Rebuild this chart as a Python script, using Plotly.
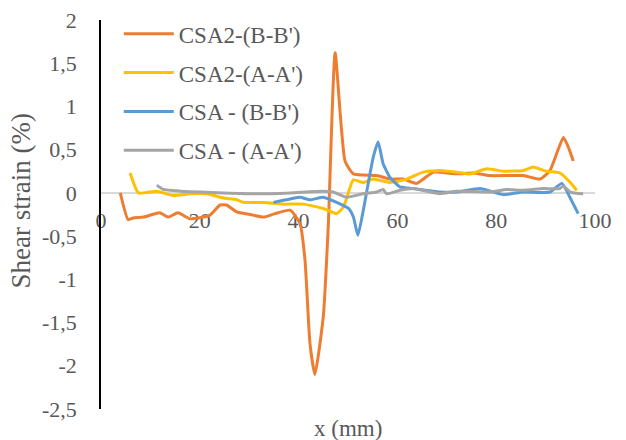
import plotly.graph_objects as go

# ---- data ----
x_csa2_bb = [3.9, 5.5, 6.5, 8.6, 11.9, 13.6, 15.6, 18.0, 22.0, 24.1, 25.4, 27.5, 30.2, 32.9, 35.2, 38.3,
             40.3, 41.3, 42.3, 43.3, 45.0, 46.0, 47.4, 49.4, 51.1, 55.8, 58.5, 61.2, 63.9, 67.3, 72.0,
             75.4, 78.7, 85.5, 88.9, 90.9, 93.6, 94.6, 95.6]
y_csa2_bb = [0.0, -0.31, -0.29, -0.28, -0.23, -0.28, -0.23, -0.30, -0.26, -0.14, -0.14, -0.22, -0.25, -0.28, -0.24, -0.20,
             -0.36, -0.78, -1.74, -2.10, -1.43, -0.39, 1.62, 0.37, 0.22, 0.20, 0.16, 0.16, 0.11, 0.24, 0.22,
             0.23, 0.20, 0.20, 0.16, 0.26, 0.64, 0.53, 0.37]

x_csa2_aa = [5.9, 7.6, 11.3, 14.6, 18.0, 21.4, 24.8, 27.5, 28.8, 32.9, 36.9, 41.0, 45.0, 47.7, 49.1, 51.1,
             53.1, 55.1, 58.5, 61.9, 65.2, 68.6, 72.0, 74.7, 78.1, 81.4, 85.5, 87.5, 90.2, 92.9, 95.0, 96.3]
y_csa2_aa = [0.23, 0.0, 0.02, -0.03, -0.01, -0.01, -0.06, -0.08, -0.11, -0.11, -0.13, -0.13, -0.18, -0.24, -0.16, 0.15,
             0.12, 0.16, 0.12, 0.16, 0.24, 0.26, 0.24, 0.22, 0.28, 0.25, 0.26, 0.30, 0.25, 0.23, 0.12, 0.03]

x_csa_bb = [34.9, 38.3, 40.3, 42.3, 45.0, 47.7, 50.1, 51.1, 52.0, 53.1, 55.1, 56.1, 57.1, 58.5, 60.5, 63.2,
            68.6, 72.0, 76.7, 81.4, 85.5, 90.9, 93.3, 94.9, 96.6]
y_csa_bb = [-0.11, -0.07, -0.05, -0.08, -0.05, -0.11, -0.18, -0.28, -0.49, -0.20, 0.41, 0.59, 0.34, 0.18, 0.07, 0.05,
            0.01, 0.01, 0.05, -0.02, 0.01, 0.01, 0.11, -0.05, -0.24]

x_csa_aa = [11.3, 12.6, 16.0, 20.0, 24.8, 31.5, 38.3, 45.0, 47.0, 49.7, 53.1, 55.8, 57.1, 57.8, 60.5, 63.2,
            68.6, 72.0, 78.7, 82.1, 85.5, 89.5, 92.9, 93.6, 95.0, 97.6]
y_csa_aa = [0.09, 0.04, 0.02, 0.01, 0.0, -0.01, 0.0, 0.02, 0.01, -0.05, -0.01, 0.01, 0.04, -0.01, 0.03, 0.05,
            -0.01, 0.02, 0.01, 0.04, 0.03, 0.05, 0.05, 0.08, 0.01, -0.01]

series_names = ["CSA2-(B-B')", "CSA2-(A-A')", "CSA - (B-B')", "CSA - (A-A')"]
series_colors = ["#ED7D31", "#FFC000", "#5B9BD5", "#A5A5A5"]

x_tickvals = [0, 20, 40, 60, 80, 100]
x_ticktext = ["0", "20", "40", "60", "80", "100"]
y_tickvals = [-2.5, -2, -1.5, -1, -0.5, 0, 0.5, 1, 1.5, 2]
y_ticktext = ["-2,5", "-2", "-1,5", "-1", "-0,5", "0", "0,5", "1", "1,5", "2"]

x_range = [0, 100]
y_range = [-2.5, 2]

FONT = "Liberation Serif"
GREY = "#595959"

fig = go.Figure()
all_x = [x_csa2_bb, x_csa2_aa, x_csa_bb, x_csa_aa]
all_y = [y_csa2_bb, y_csa2_aa, y_csa_bb, y_csa_aa]
for name, xs, ys, col in zip(series_names, all_x, all_y, series_colors):
    fig.add_trace(go.Scatter(x=xs, y=ys, mode="lines", name=name, legendgroup=name,
                             line=dict(color=col, width=3, shape="spline", smoothing=0.5)))

zero_pos = (0 - y_range[0]) / (y_range[1] - y_range[0])

fig.update_layout(
    width=626, height=440,
    margin=dict(l=101, r=31, t=20, b=31, autoexpand=False),
    paper_bgcolor="white", plot_bgcolor="white",
    font=dict(family=FONT, size=22, color=GREY),
    showlegend=True,
    legend=dict(x=0.036, y=1.02, xanchor="left", yanchor="top", bgcolor="rgba(0,0,0,0)",
                font=dict(family=FONT, size=23, color=GREY), tracegroupgap=6, itemwidth=50),
    xaxis=dict(range=x_range, tickvals=x_tickvals, ticktext=x_ticktext, anchor="free", position=zero_pos,
               showline=True, linecolor="#D9D9D9", linewidth=1.5, showgrid=False, zeroline=False,
               ticks="", ticklabelstandoff=8, layer="below traces", automargin=False,
               tickfont=dict(family=FONT, size=22, color=GREY)),
    yaxis=dict(range=y_range, tickvals=y_tickvals, ticktext=y_ticktext,
               showline=True, linecolor="black", linewidth=1.5, showgrid=False, zeroline=False,
               ticks="", ticklabelstandoff=18, automargin=False,
               tickfont=dict(family=FONT, size=22, color=GREY)),
    annotations=[
        dict(text="x (mm)", xref="paper", yref="paper", x=0.5, y=0, yshift=-19, showarrow=False,
             xanchor="center", yanchor="middle", font=dict(family=FONT, size=23, color=GREY)),
        dict(text="Shear strain (%)", xref="paper", yref="paper", x=0, xshift=-81,
             y=(409.5 - 202) / 389, showarrow=False, textangle=-90,
             xanchor="center", yanchor="middle", font=dict(family=FONT, size=27, color=GREY)),
    ],
)

fig.write_html("out.html", config={"displayModeBar": False},
               post_script="document.body.style.margin='0';document.body.style.padding='0';")
